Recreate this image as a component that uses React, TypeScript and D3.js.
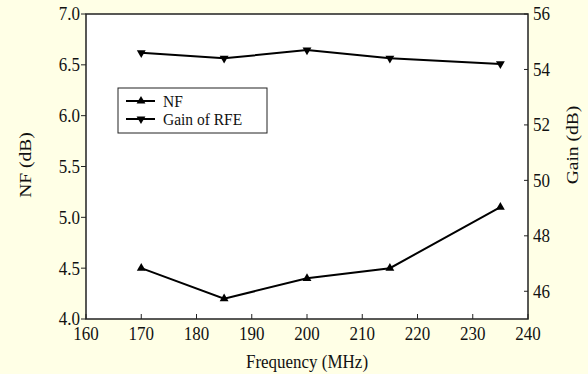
import React from "react";
import { scaleLinear, line, symbol, symbolTriangle, range } from "d3";

const frequency = [170, 185, 200, 215, 235];
const nfValues = [4.5, 4.2, 4.4, 4.5, 5.1];
const gainValues = [54.6, 54.4, 54.7, 54.4, 54.2];
const xTicks = [160, 170, 180, 190, 200, 210, 220, 230, 240];
const nfTicks = [4.0, 4.5, 5.0, 5.5, 6.0, 6.5, 7.0];
const gainTicks = [46, 48, 50, 52, 54, 56];
const seriesNames = ["NF", "Gain of RFE"];

export default function App() {
  const width = 588;
  const height = 374;
  const plot = { left: 86, right: 528, top: 14, bottom: 319 };
  const font = "'Liberation Serif', 'Times New Roman', serif";
  const fs = 17;
  const stretch = 1.15;

  const x = scaleLinear().domain([160, 240]).range([plot.left, plot.right]);
  const yNF = scaleLinear().domain([4, 7]).range([plot.bottom, plot.top]);
  const yGain = scaleLinear().domain([45, 56]).range([plot.bottom, plot.top]);

  const nfLine = line<number>().x((d, i) => x(frequency[i])).y(d => yNF(d));
  const gainLine = line<number>().x((d, i) => x(frequency[i])).y(d => yGain(d));
  const tri = symbol().type(symbolTriangle).size(34)();

  const label = (key: string, tx: number, ty: number, text: string, anchor: string, rotate = 0, size = fs, sy = stretch) => (
    <g key={key} transform={`translate(${tx},${ty}) scale(1,${sy}) rotate(${rotate})`}>
      <text textAnchor={anchor} dominantBaseline="central" fontFamily={font} fontSize={size} fill="#111">
        {text}
      </text>
    </g>
  );

  return (
    <svg width={width} height={height} style={{ position: "absolute", left: 0, top: 0 }}>
      <rect width={width} height={height} fill="#FFFFE6" />
      <rect x={plot.left} y={plot.top} width={plot.right - plot.left} height={plot.bottom - plot.top} fill="#fff" />

      {/* frame */}
      <rect x={plot.left} y={plot.top} width={plot.right - plot.left} height={plot.bottom - plot.top}
        fill="none" stroke="#222" strokeWidth={1.5} />

      {/* bottom axis, ticks inward */}
      {xTicks.map(t => (
        <g key={`x${t}`}>
          <line x1={x(t)} x2={x(t)} y1={plot.bottom} y2={plot.bottom - 5} stroke="#222" />
          {label(`xl${t}`, x(t), plot.bottom + 15, String(t), "middle")}
        </g>
      ))}

      {/* left axis, ticks outward */}
      {nfTicks.map(t => (
        <g key={`l${t}`}>
          <line x1={plot.left - 5} x2={plot.left} y1={yNF(t)} y2={yNF(t)} stroke="#222" />
          {label(`ll${t}`, plot.left - 6, yNF(t), t.toFixed(1), "end")}
        </g>
      ))}

      {/* right axis, ticks inward */}
      {gainTicks.map(t => (
        <g key={`r${t}`}>
          <line x1={plot.right - 4} x2={plot.right} y1={yGain(t)} y2={yGain(t)} stroke="#222" />
          {label(`rl${t}`, plot.right + 5, yGain(t), String(t), "start")}
        </g>
      ))}

      {label("xt", (plot.left + plot.right) / 2, 362, "Frequency (MHz)", "middle")}
      {label("ylt", 25, 165, "NF (dB)", "middle", -90)}
      {label("yrt", 572, 145, "Gain (dB)", "middle", -90)}

      {/* series */}
      <path d={nfLine(nfValues) ?? ""} fill="none" stroke="#000" strokeWidth={2} />
      {nfValues.map((v, i) => (
        <path key={`nf${i}`} d={tri} transform={`translate(${x(frequency[i])},${yNF(v)})`} fill="#000" />
      ))}
      <path d={gainLine(gainValues) ?? ""} fill="none" stroke="#000" strokeWidth={2} />
      {gainValues.map((v, i) => (
        <path key={`g${i}`} d={tri} transform={`translate(${x(frequency[i])},${yGain(v)}) rotate(180)`} fill="#000" />
      ))}

      {/* legend */}
      <rect x={118} y={88} width={149} height={45} fill="#fff" stroke="#222" strokeWidth={1} />
      {range(seriesNames.length).map(i => {
        const ly = 101 + i * 18;
        return (
          <g key={`leg${i}`}>
            <line x1={126} x2={155} y1={ly} y2={ly} stroke="#000" strokeWidth={2} />
            <path d={tri} transform={`translate(141,${ly}) rotate(${i === 0 ? 0 : 180})`} fill="#000" />
            {label(`legt${i}`, 163, ly, seriesNames[i], "start", 0, 15.5, 1.1)}
          </g>
        );
      })}
    </svg>
  );
}
